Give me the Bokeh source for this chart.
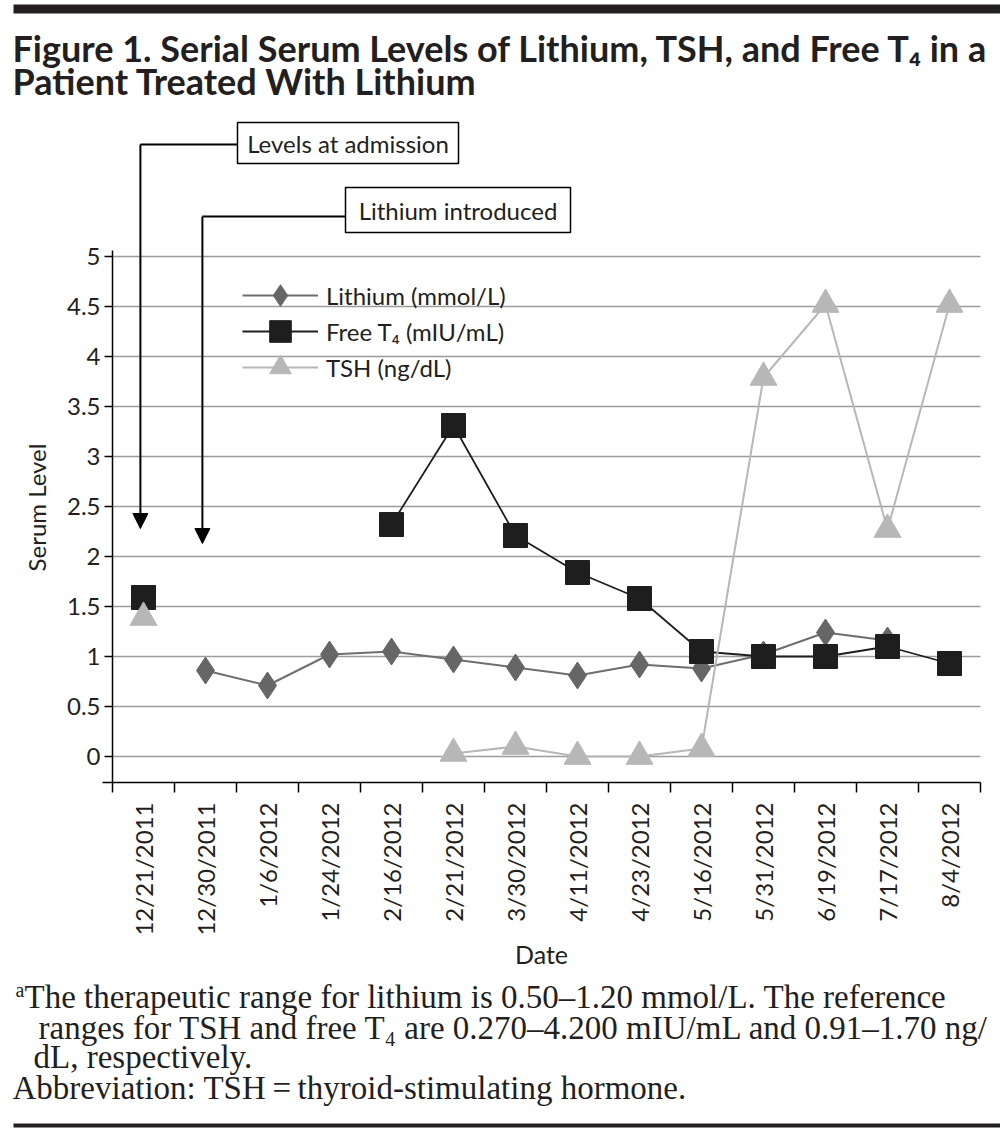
import math
import numpy as np
from bokeh.plotting import figure
from bokeh.models import (Range1d, FixedTicker, NumeralTickFormatter, Legend, LegendItem, Arrow,
                          NormalHead)
from bokeh.embed import file_html
from bokeh.resources import INLINE
from bokeh.core.properties import value

# ---------------- data ----------------
title_lines = ["Figure 1. Serial Serum Levels of Lithium, TSH, and Free T\u2084 in a",
               "Patient Treated With Lithium"]
dates = ["12/21/2011", "12/30/2011", "1/6/2012", "1/24/2012", "2/16/2012", "2/21/2012",
         "3/30/2012", "4/11/2012", "4/23/2012", "5/16/2012", "5/31/2012", "6/19/2012",
         "7/17/2012", "8/4/2012"]
lithium = [None, 0.86, 0.71, 1.02, 1.05, 0.97, 0.89, 0.81, 0.92, 0.88, 1.02, 1.24, 1.16, None]
free_t4 = [1.59, None, None, None, 2.32, 3.31, 2.21, 1.84, 1.58, 1.05, 1.00, 1.00, 1.10, 0.93]
tsh = [1.39, None, None, None, None, 0.03, 0.10, 0.00, 0.00, 0.08, 3.79, 4.52, 2.27, 4.52]
series_names = ["Lithium (mmol/L)", "Free T\u2084 (mIU/mL)", "TSH (ng/dL)"]
y_ticks = [0, 0.5, 1, 1.5, 2, 2.5, 3, 3.5, 4, 4.5, 5]
x_label = "Date"
y_label = "Serum Level"
callouts = ["Levels at admission", "Lithium introduced"]
callout_dates = ["12/21/2011", "12/30/2011"]
footnote_sup = "a"
footnote_lines = ["The therapeutic range for lithium is 0.50\u20131.20 mmol/L. The reference",
                  "ranges for TSH and free T\u2084 are 0.270\u20134.200 mIU/mL and 0.91\u20131.70 ng/",
                  "dL, respectively.",
                  "Abbreviation: TSH\u2009=\u2009thyroid-stimulating hormone."]

# ---------------- styles / geometry ----------------
SANS = "Lato"
SERIF = "Liberation Serif"
TXT = "#231f20"
C_LI, C_LI_LINE = "#666666", "#6e6e6e"
C_T4 = "#1e1e1e"
C_TSH = "#b7b7b7"
C_GRID = "#9c9c9c"
W, H = 1000, 1134
FL, FR, FB = 112, 980, 782                   # plot-area edges in page pixels
PX_PER_X = (FR - FL) / len(dates)
Y0_PX, PX_PER_Y = 756, 100.0                  # pixel of value 0, pixels per unit


def dx(px):
    return (px - FL) / PX_PER_X


def dy(py):
    return (Y0_PX - py) / PX_PER_Y


xs = np.arange(len(dates)) + 0.5
p = figure(width=W, height=H, x_range=Range1d(dx(0), dx(W)), y_range=Range1d(dy(H), dy(0)),
           output_backend="svg", toolbar_location=None, title=None,
           min_border=0, min_border_left=0, min_border_right=0, min_border_top=0,
           min_border_bottom=0, x_axis_label=x_label)
p.outline_line_color = None
p.background_fill_color = "white"
p.xgrid.visible = False
p.ygrid.visible = False

# horizontal grid lines across the plot area only
p.segment(x0=[0] * len(y_ticks), x1=[len(dates)] * len(y_ticks), y0=y_ticks, y1=y_ticks,
          line_color=C_GRID, line_width=1.6)

# y axis, pinned at the left edge of the plot area
ya = p.yaxis[0]
ya.fixed_location = 0
ya.ticker = FixedTicker(ticks=y_ticks)
ya.formatter = NumeralTickFormatter(format="0.[0]")
ya.bounds = (dy(FB), 5.06)
ya.major_tick_out = 8
ya.major_tick_in = 0
ya.minor_tick_out = 0
ya.minor_tick_in = 0
ya.axis_line_width = 1.5
ya.major_tick_line_width = 1.5
ya.axis_line_color = "black"
ya.major_label_standoff = 4
ya.major_label_text_font = SANS
ya.major_label_text_font_size = "24px"
ya.major_label_text_color = TXT

# x axis (labels at the centres, ticks between dates), pinned at the bottom of the plot area
xa = p.xaxis[0]
xa.fixed_location = dy(FB)
xa.bounds = (dx(102), len(dates))
xa.ticker = FixedTicker(ticks=list(xs), minor_ticks=list(range(len(dates) + 1)))
xa.major_label_overrides = {float(x): d for x, d in zip(xs, dates)}
xa.major_label_orientation = math.pi / 2
xa.major_tick_out = 0
xa.major_tick_in = 0
xa.minor_tick_out = 10
xa.minor_tick_in = 0
xa.minor_tick_line_color = "black"
xa.minor_tick_line_width = 1.5
xa.axis_line_width = 1.5
xa.axis_line_color = "black"
xa.major_label_standoff = 10
xa.major_label_text_font = SANS
xa.major_label_text_font_size = "24px"
xa.major_label_text_color = TXT
xa.axis_label_standoff = 0
xa.axis_label_text_font = SANS
xa.axis_label_text_font_size = "25px"
xa.axis_label_text_font_style = "normal"
xa.axis_label_text_color = TXT

p.text(x=[dx(36)], y=[dy(507)], text=[y_label], angle=math.pi / 2, text_align="center",
       text_baseline="middle", text_font=value(SANS), text_font_size="24px", text_color=TXT)

# ---------------- series ----------------
li = np.array(lithium, dtype=float)
t4 = np.array(free_t4, dtype=float)
ts = np.array(tsh, dtype=float)

r_li_l = p.line(xs, li, line_color=C_LI_LINE, line_width=2)
r_li_m = p.scatter(xs, li, marker="diamond", size=27, fill_color=C_LI, line_color=C_LI)
r_t4_l = p.line(xs, t4, line_color=C_T4, line_width=1.8)
r_t4_m = p.scatter(xs, t4, marker="square", size=24, fill_color=C_T4, line_color=C_T4)
r_ts_l = p.line(xs, ts, line_color=C_TSH, line_width=2)
r_ts_m = p.scatter(xs, ts, marker="triangle", size=27, fill_color=C_TSH, line_color=C_TSH)

# legend: one row per Legend so the rows can sit closer than the marker box height
row_centres = [295, 331, 367]
row_renderers = [[r_li_l, r_li_m], [r_t4_l, r_t4_m], [r_ts_l, r_ts_m]]
for name, rends, c in zip(series_names, row_renderers, row_centres):
    lg = Legend(items=[LegendItem(label=name, renderers=rends)],
                location=(242, H - (c + 27)), glyph_width=76, glyph_height=54,
                label_height=54, spacing=0, padding=0, margin=0, label_standoff=8,
                background_fill_alpha=0, border_line_color=None,
                label_text_font=SANS, label_text_font_size="24px", label_text_color=TXT)
    p.add_layout(lg)

# ---------------- call-outs ----------------
ci = [dates.index(d) for d in callout_dates]
ax = [xs[i] - 0.05 for i in ci]
box_l = [dx(237), dx(345)]
box_r = [dx(458), dx(570)]
box_t = [dy(122), dy(187)]
box_b = [dy(163), dy(232)]
elbow_y = [dy(144), dy(216)]
tip_y = [dy(528), dy(543)]
p.segment(x0=box_l, y0=elbow_y, x1=ax, y1=elbow_y, line_color="black", line_width=2)
for i in range(2):
    p.add_layout(Arrow(end=NormalHead(size=15, fill_color="black", line_color="black"),
                       x_start=ax[i], y_start=elbow_y[i], x_end=ax[i], y_end=tip_y[i],
                       line_color="black", line_width=2))
p.quad(left=box_l, right=box_r, top=box_t, bottom=box_b, fill_color="white",
       line_color="black", line_width=1.5)
p.text(x=[(a + b) / 2 for a, b in zip(box_l, box_r)], y=[(a + b) / 2 for a, b in zip(box_t, box_b)],
       text=callouts, text_font=value(SANS), text_font_size="24px", text_align="center",
       text_baseline="middle", text_color=TXT)

# ---------------- title ----------------
p.quad(left=[dx(13)], right=[dx(1000)], top=[dy(4)], bottom=[dy(13)], fill_color=TXT, line_color=None)
p.text(x=[dx(12)] * 2, y=[dy(47), dy(80)], text=title_lines, text_font=value(SANS),
       text_font_style="bold", text_font_size="36px", text_baseline="alphabetic", text_color=TXT)

# ---------------- footnote ----------------
p.text(x=[dx(15)], y=[dy(989)], text=[footnote_sup], text_font=value(SERIF), text_font_size="20px",
       text_baseline="alphabetic", text_color=TXT)
p.text(x=[dx(v) for v in [24, 38, 33, 12]], y=[dy(v) for v in [996, 1027, 1056, 1087]],
       text=footnote_lines, text_font=value(SERIF), text_font_size="33px",
       text_baseline="alphabetic", text_color=TXT)
p.quad(left=[dx(13)], right=[dx(1000)], top=[dy(1123)], bottom=[dy(1127)], fill_color=TXT,
       line_color=None)

open("out.html", "w").write(file_html(p, INLINE))
